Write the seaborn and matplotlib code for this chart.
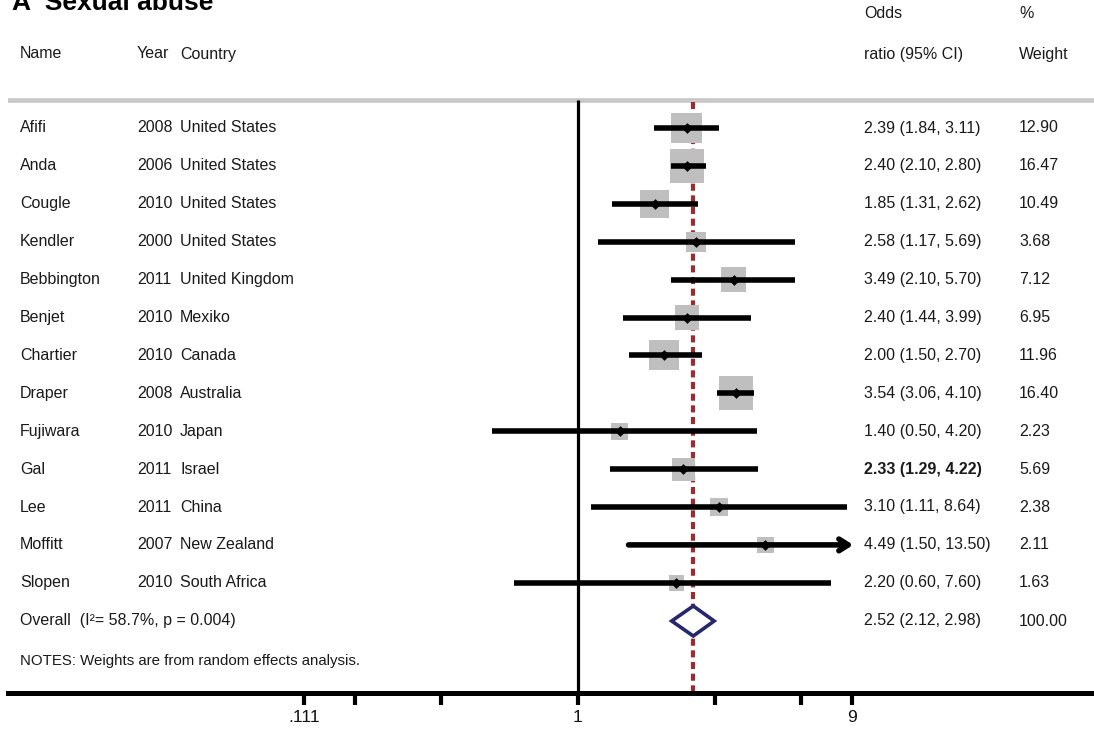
import numpy as np
import pandas as pd
import matplotlib
matplotlib.use("Agg")
import matplotlib.pyplot as plt
import matplotlib.transforms as mtransforms
from matplotlib.ticker import FixedLocator, NullFormatter
from matplotlib.patches import Polygon
import seaborn as sns

# ---------------- data ----------------
names = ["Afifi", "Anda", "Cougle", "Kendler", "Bebbington", "Benjet", "Chartier",
         "Draper", "Fujiwara", "Gal", "Lee", "Moffitt", "Slopen"]
years = [2008, 2006, 2010, 2000, 2011, 2010, 2010, 2008, 2010, 2011, 2011, 2007, 2010]
countries = ["United States", "United States", "United States", "United States",
             "United Kingdom", "Mexiko", "Canada", "Australia", "Japan", "Israel",
             "China", "New Zealand", "South Africa"]
odds = [2.39, 2.40, 1.85, 2.58, 3.49, 2.40, 2.00, 3.54, 1.40, 2.33, 3.10, 4.49, 2.20]
ci_low = [1.84, 2.10, 1.31, 1.17, 2.10, 1.44, 1.50, 3.06, 0.50, 1.29, 1.11, 1.50, 0.60]
ci_high = [3.11, 2.80, 2.62, 5.69, 5.70, 3.99, 2.70, 4.10, 4.20, 4.22, 8.64, 13.50, 7.60]
weights = [12.90, 16.47, 10.49, 3.68, 7.12, 6.95, 11.96, 16.40, 2.23, 5.69, 2.38, 2.11, 1.63]
overall_or, overall_lo, overall_hi = 2.52, 2.12, 2.98
overall_weight = "100.00"
overall_label = "Overall  (I\u00b2= 58.7%, p = 0.004)"
notes = "NOTES: Weights are from random effects analysis."
title = "A  Sexual abuse"
tick_values = [1/9, 1, 9]
tick_labels = [".111", "1", "9"]
minor_ticks = [1/6, 1/3, 3, 6]
axis_max = 9

# ---------------- style ----------------
sns.set_theme(style="white")
plt.rcParams["font.family"] = ["Liberation Sans", "DejaVu Sans"]

W, H = 1094, 732
fig = plt.figure(figsize=(W / 100, H / 100), dpi=100)
left_px = 8
ax = fig.add_axes([left_px / W, 0, 1 - left_px / W, 1])
ax.set_xscale("log")
px_per_ln = 124.7
x1_px = 578
ax.set_xlim(np.exp((left_px - x1_px) / px_per_ln), np.exp((W - x1_px) / px_per_ln))
ax.set_ylim(H, 0)

n = len(names)
row_y = 128 + 37.9 * np.arange(n)
overall_y = 621
notes_y = 661
top_y, axis_y = 100, 693

df = pd.DataFrame({"name": names, "year": years, "country": countries,
                   "or": odds, "lo": ci_low, "hi": ci_high, "w": weights, "y": row_y})
side_pt = (7.2 + 6.6 * np.sqrt(df["w"])) * 0.72
df["area"] = side_pt ** 2

# header separator
ax.axhline(top_y, color="#c8c8c8", lw=3.4, zorder=1)
# null line
ax.vlines(1, top_y, axis_y, color="black", lw=2.3, zorder=2)
# overall dashed line
ax.vlines(overall_or, top_y + 2, axis_y, color="#9b2d30", lw=3.0,
          linestyles=(0, (1.7, 1.1)), zorder=2)

# weight squares
sns.scatterplot(data=df, x="or", y="y", size="area",
                sizes=(df["area"].min(), df["area"].max()),
                size_norm=(df["area"].min(), df["area"].max()),
                marker="s", color="#bfbfbf", linewidth=0, legend=False,
                ax=ax, zorder=3)

# CI lines
for _, r in df.iterrows():
    if r["hi"] > axis_max:
        ax.annotate("", xy=(axis_max * 1.01, r["y"]), xytext=(r["lo"], r["y"]),
                    arrowprops=dict(arrowstyle="->,head_length=0.55,head_width=0.35",
                                    lw=4.0, color="black", shrinkA=0, shrinkB=0),
                    zorder=4)
    else:
        ax.hlines(r["y"], r["lo"], r["hi"], color="black", lw=4.0, zorder=4)

# point estimates
sns.scatterplot(data=df, x="or", y="y", marker="D", color="black", s=30,
                linewidth=0, legend=False, ax=ax, zorder=5)

# overall diamond
dh = 15
diamond = Polygon([(overall_lo, overall_y), (overall_or, overall_y - dh),
                   (overall_hi, overall_y), (overall_or, overall_y + dh)],
                  closed=True, facecolor="white", edgecolor="#27276b", lw=2.6, zorder=6)
ax.add_patch(diamond)

# axis
for s in ["top", "left", "right"]:
    ax.spines[s].set_visible(False)
ax.spines["bottom"].set_position(("data", axis_y))
ax.spines["bottom"].set_linewidth(3.6)
ax.spines["bottom"].set_color("black")
ax.set_xticks(tick_values)
ax.set_xticklabels(tick_labels, fontsize=12.5, color="#111111")
ax.xaxis.set_minor_locator(FixedLocator(minor_ticks))
ax.xaxis.set_minor_formatter(NullFormatter())
ax.tick_params(axis="x", which="both", direction="out", length=8.5, width=3.0,
               color="black", bottom=True, pad=4)
ax.set_yticks([])
ax.set_xlabel("")
ax.set_ylabel("")
ax.grid(False)

# text columns
tr = mtransforms.blended_transform_factory(fig.transFigure, ax.transData)
fs = 11.5
col_name, col_year, col_country, col_or, col_w = 20, 137, 180, 864, 1019
txt = dict(transform=tr, fontsize=fs, va="center", ha="left", color="#1a1a1a")

fig.text(12 / W, 1 - 10 / H, title, fontsize=19, fontweight="bold",
         va="baseline", ha="left", color="black")
ax.text(col_or / W, 14, "Odds", **txt)
ax.text(col_w / W, 14, "%", **txt)
ax.text(col_name / W, 54, "Name", **txt)
ax.text(col_year / W, 54, "Year", **txt)
ax.text(col_country / W, 54, "Country", **txt)
ax.text(col_or / W, 54, "ratio (95% CI)", **txt)
ax.text(col_w / W, 54, "Weight", **txt)

for _, r in df.iterrows():
    ax.text(col_name / W, r["y"], r["name"], **txt)
    ax.text(col_year / W, r["y"], str(r["year"]), **txt)
    ax.text(col_country / W, r["y"], r["country"], **txt)
    bold = "bold" if r["name"] == "Gal" else "normal"
    ax.text(col_or / W, r["y"], f"{r['or']:.2f} ({r['lo']:.2f}, {r['hi']:.2f})",
            fontweight=bold, **txt)
    ax.text(col_w / W, r["y"], f"{r['w']:.2f}", **txt)

ax.text(col_name / W, overall_y, overall_label, **txt)
ax.text(col_or / W, overall_y, f"{overall_or:.2f} ({overall_lo:.2f}, {overall_hi:.2f})", **txt)
ax.text(col_w / W, overall_y, overall_weight, **txt)
ax.text(col_name / W, notes_y, notes, transform=tr, fontsize=10.8, va="center",
        ha="left", color="#1a1a1a")

fig.savefig("out.png", dpi=100)
